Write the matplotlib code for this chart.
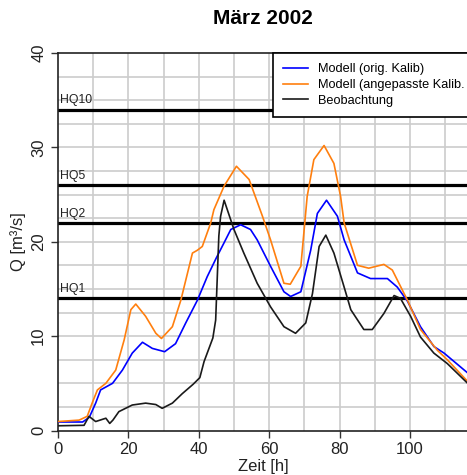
import numpy as np
import matplotlib
matplotlib.use('Agg')
import matplotlib.pyplot as plt

plt.rcParams['font.family'] = ['Liberation Sans', 'DejaVu Sans']

# data (time in hours, discharge in m3/s)
t_orig = [0, 7, 8.9, 10.7, 12.1, 15.5, 18.3, 21.1, 24.0, 26.8, 30.3, 33.4, 36.3,
          39.6, 42.4, 45.0, 47.2, 49.1, 51.9, 54.7, 56.6, 60.4, 64.2, 66.1, 69,
          71.8, 73.7, 76.3, 79.4, 81.3, 85.1, 88.8, 93.6, 96.4, 99.3, 103, 106.8,
          109.7, 116.4]
q_orig = [0.9, 0.9, 1.4, 2.9, 4.3, 5.0, 6.4, 8.2, 9.35, 8.7, 8.35, 9.2, 11.4,
          13.8, 16.3, 18.3, 19.9, 21.3, 21.8, 21.3, 20.2, 17.4, 14.7, 14.2, 14.7,
          19.1, 23.0, 24.4, 22.7, 20.2, 16.7, 16.1, 16.1, 15.2, 13.7, 11.0, 8.9,
          8.2, 6.1]

t_adj = [0, 6, 8.3, 9.8, 11.2, 13.6, 16.4, 18.8, 20.7, 22.1, 24.9, 27.8, 29.4,
         32.5, 34.9, 38.2, 39.6, 41, 43.4, 44.3, 47.2, 50.7, 54.3, 58.1, 60.4,
         64.2, 66, 69, 70.8, 72.7, 75.6, 78.4, 80.3, 81.3, 85.1, 88.3, 92.6, 95,
         99.3, 103, 107.8, 110.6, 116.4]
q_adj = [0.95, 1.1, 1.5, 3.0, 4.3, 5.0, 6.4, 9.6, 12.8, 13.4, 12.1, 10.3, 9.75,
         11.0, 13.8, 18.8, 19.1, 19.5, 22.0, 23.4, 25.9, 28.0, 26.6, 22.7, 20.2,
         15.6, 15.5, 17.4, 24.8, 28.7, 30.2, 28.3, 24.8, 22.0, 17.5, 17.2, 17.6,
         17.0, 13.8, 10.7, 8.5, 7.5, 5.2]

t_obs = [0, 7.4, 8.8, 10.7, 13.6, 14.7, 15.6, 17.3, 21.1, 24.9, 27.8, 29.6,
         32.5, 35.3, 38.4, 40.3, 41.5, 43.1, 44, 44.8, 45.7, 46.2, 47.2, 50,
         52.8, 56.6, 60.4, 64.2, 67.5, 70.4, 72.3, 74.2, 76.1, 78.4, 81.3, 83.2,
         86.9, 89.3, 92.6, 95.5, 97.3, 100.2, 103, 106.8, 110.6, 116.4]
q_obs = [0.5, 0.55, 1.5, 0.95, 1.3, 0.75, 1.1, 2.0, 2.7, 2.9, 2.75, 2.35,
         2.9, 3.9, 4.9, 5.6, 7.3, 8.9, 9.8, 11.7, 20.6, 22.7, 24.4, 21.3,
         18.8, 15.6, 13.1, 11.0, 10.3, 11.4, 14.5, 19.5, 20.7, 18.8, 15.2, 12.8,
         10.7, 10.7, 12.4, 14.3, 14.0, 12.1, 9.9, 8.2, 7.1, 5.0]

hq_names = ['HQ1', 'HQ2', 'HQ5', 'HQ10']
hq_values = [14, 22, 26, 34]

fig = plt.figure(figsize=(4.67, 4.75), dpi=100)
ax = fig.add_axes([58 / 467, 44.5 / 475, 410 / 467, 377.5 / 475])

# grid like the R plot
for gx in np.arange(10, 120, 10):
    ax.axvline(gx, color='#cccccc', lw=1.2, zorder=0)
for gy in np.arange(2.5, 40, 2.5):
    ax.axhline(gy, color='#cccccc', lw=1.2, zorder=0)

# flood thresholds
for name, val in zip(hq_names, hq_values):
    ax.axhline(val, color='black', lw=2.3, zorder=2)
    ax.text(0.6, val + 0.35, name, fontsize=8.8, color='#222222',
            va='bottom', ha='left', zorder=3)

ax.plot(t_orig, q_orig, color='#0000ff', lw=1.2, label='Modell (orig. Kalib)', zorder=4)
ax.plot(t_adj, q_adj, color='#ff7f0e', lw=1.2, label='Modell (angepasste Kalib.', zorder=4)
ax.plot(t_obs, q_obs, color='#1a1a1a', lw=1.2, label='Beobachtung', zorder=4)

ax.set_xlim(0, 116.5)
ax.set_ylim(0, 40)
ax.set_xticks([0, 20, 40, 60, 80, 100])
ax.set_yticks([0, 10, 20, 30, 40])
ax.tick_params(axis='both', labelsize=12, length=5, width=1, color='#333333', labelcolor='#222222')
for lab in ax.get_yticklabels():
    lab.set_rotation(90)
    lab.set_va('center')

for side in ['left', 'bottom', 'top']:
    ax.spines[side].set_linewidth(1.2)
    ax.spines[side].set_color('#222222')
ax.spines['right'].set_visible(False)

ax.set_xlabel('Zeit [h]', fontsize=12, color='#222222', labelpad=1)
ax.set_ylabel('Q [m³/s]', fontsize=12, color='#222222', labelpad=4)
fig.text(263 / 467, 1 - 18 / 475, 'März 2002', fontsize=15, fontweight='bold',
         ha='center', va='center')

leg = ax.legend(loc='upper left', bbox_to_anchor=((273 - 58) / 410, 1.0), fontsize=9.2,
                frameon=True, fancybox=False, borderaxespad=0, handlelength=1.9,
                labelspacing=0.3, borderpad=0.8, handletextpad=0.8, framealpha=1)
leg.get_frame().set_edgecolor('black')
leg.get_frame().set_linewidth(1.2)
leg.set_zorder(10)

fig.savefig('out.png', dpi=100)
